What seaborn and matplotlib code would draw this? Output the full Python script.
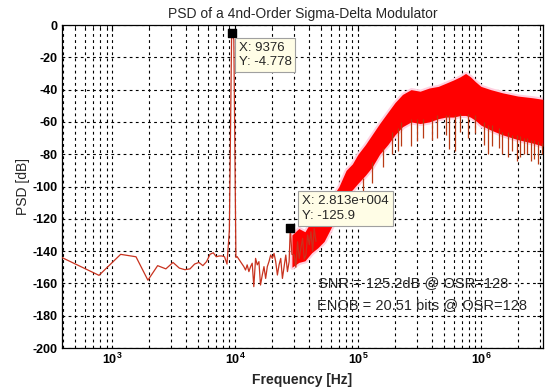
import numpy as np
import pandas as pd
import matplotlib
matplotlib.use("Agg")
import matplotlib.pyplot as plt
import seaborn as sns

# In-band part of the spectrum (bins of ~390.6 Hz)
low_freq = [390.6, 781.3, 1171.9, 1562.5, 1953.1, 2343.8, 2734.4, 3125.0, 3515.6,
            3906.3, 4296.9, 4687.5, 5078.1, 5468.8, 5859.4, 6250.0, 6640.6, 7031.3,
            7421.9, 7812.5, 8203.1, 8593.8, 8984.4, 9375.0, 9765.6, 10156.0,
            10385, 11060, 11780, 12160, 12540, 12950, 13360, 13780, 14200, 14680,
            15150, 15630, 16100, 16640, 17180, 17730, 18290, 18870, 19480, 20100,
            20740, 21400, 22090, 22790, 23520, 24270, 25050, 25850, 26670, 27520,
            28125, 29000, 30270, 31200, 32230, 33260, 34300, 35420, 36500, 37700,
            38900, 40150, 41400, 42750, 44000, 45500]
low_psd = [-144, -155, -142, -143.5, -158, -149, -151, -147, -150.5,
           -151.5, -151, -148, -147, -149, -146.5, -142, -141, -143.5,
           -143, -143, -143.5, -148, -127, -4.778, -9, -144,
           -143.4, -146.5, -149.6, -151.7, -148.5, -152.7, -149.6, -147.5, -162, -144.5,
           -148.5, -146.5, -161, -154.8, -149.6, -156.9, -149.6, -146.5, -142.4, -144.5,
           -141.4, -146.5, -154.8, -148.5, -144.5, -156.9, -149.6, -142.4, -152.7, -146.5,
           -125.9, -142, -142.4, -150, -134.2, -144.5, -138, -132.1, -145, -142.4,
           -130, -136, -128, -140, -126, -134]

# Dense out-of-band noise: upper / lower envelope of the red band
band_freq = [29000, 33000, 37000, 42000, 47000, 53000, 60000, 70000, 80000, 90000,
             100000, 115000, 130000, 150000, 175000, 200000, 230000, 270000, 320000,
             380000, 450000, 520000, 600000, 680000, 750000, 820000, 900000, 1000000,
             1200000, 1500000, 2000000, 2600000, 3200000]
band_top = [-130, -126, -128, -121, -120, -114, -108, -100, -90, -86,
            -80, -74, -68, -61, -54, -48, -43, -40, -41,
            -39, -38, -36, -34, -32, -30, -32, -35, -38,
            -40, -42, -44, -45, -46]
band_bottom = [-150, -147, -146, -141, -138, -134, -126, -116, -106, -102,
               -98, -93, -88, -80, -74, -68, -63, -60, -61,
               -60, -58, -57, -57, -56, -56, -57, -59, -62,
               -65, -68, -71, -73, -75]

# Deep downward spikes below the band
spike_freq = [110000, 130000, 160000, 190000, 210000, 225000, 272000, 300000, 335000,
              397000, 440000, 516000, 547000, 613000, 680000, 780000, 893000, 1050000,
              1150000, 1230000, 1400000, 1490000, 1650000, 1790000, 1950000, 2090000,
              2250000, 2380000, 2550000, 2720000, 2900000, 3160000]
spike_top = [-95, -85, -76, -66, -64, -60, -58, -58, -58,
             -58, -56, -56, -56, -56, -55, -55, -56, -60,
             -62, -62, -64, -66, -66, -68, -68, -69,
             -70, -70, -71, -71, -72, -73]
spike_bottom = [-105, -98, -88, -80, -78, -75, -75, -72, -70,
                -71, -70, -68, -77, -78, -66, -70, -67, -74,
                -80, -75, -76, -80, -82, -78, -84, -82,
                -80, -80, -84, -83, -86, -80]

# Data cursors
tip_x = [9376, 28130]
tip_y = [-4.778, -125.9]
tip_text = ["X: 9376\nY: -4.778", "X: 2.813e+004\nY: -125.9"]

sns.set_theme(style="white")
plt.rcParams['font.family'] = ['Liberation Sans', 'DejaVu Sans']
plt.rcParams['mathtext.fontset'] = 'custom'
plt.rcParams['mathtext.rm'] = 'Liberation Sans'
plt.rcParams['mathtext.bf'] = 'Liberation Sans:bold'

fig = plt.figure(figsize=(5.5, 3.92), dpi=100)
ax = fig.add_axes([0.1127, 0.1122, 0.8746, 0.8240])

red = '#ff0000'
# soft pink halo around the noise band, then the band itself
ax.fill_between(band_freq, band_bottom, band_top, color=red, ec='#ffd0e0', lw=3, zorder=2)
ax.fill_between(band_freq, band_bottom, band_top, color=red, lw=0, zorder=3)
ax.vlines(spike_freq, spike_bottom, spike_top, color='#b83a14', lw=0.9, zorder=3)

low = pd.DataFrame({'f': low_freq, 'psd': low_psd})
sns.lineplot(data=low, x='f', y='psd', ax=ax, color='#c8321e', lw=0.9,
             sort=False, estimator=None, zorder=4)

ax.set_xscale('log')
ax.set_xlim(390.6, 3.2e6)
ax.set_ylim(-200, 0)
ax.set_yticks(range(-200, 1, 20))
ax.set_yticklabels([str(v) for v in range(-200, 1, 20)], fontweight='bold', fontsize=9)
ax.set_xticks([1e3, 1e4, 1e5, 1e6])
ax.set_xticklabels([r'$\mathbf{10^{%d}}$' % p for p in (3, 4, 5, 6)], fontsize=9)

ax.grid(True, which='both', axis='x', color='black', ls=(0, (2.5, 3)), lw=0.8)
ax.grid(True, which='major', axis='y', color='black', ls=(0, (2.5, 3)), lw=0.8)
ax.tick_params(which='both', direction='in', top=True, right=True, colors='black')
ax.tick_params(which='major', length=4, width=0.8, pad=3)
ax.tick_params(which='minor', length=2, width=0.6)
for s in ax.spines.values():
    s.set_color('black')
    s.set_linewidth(0.9)

ax.set_title('PSD of a 4nd-Order Sigma-Delta Modulator', fontsize=10, pad=5)
ax.set_xlabel('Frequency [Hz]', fontsize=10, fontweight='bold', labelpad=4)
ax.set_ylabel('PSD [dB]', fontsize=10, labelpad=2)

ax.scatter(tip_x, tip_y, marker='s', s=36, color='black', zorder=6)
offsets = [(7, -9), (12, 33)]
for x, y, t, off in zip(tip_x, tip_y, tip_text, offsets):
    ax.annotate(t, xy=(x, y), xytext=off, textcoords='offset pixels',
                ha='left', va='top', fontsize=9.5, zorder=7, linespacing=1.25,
                bbox=dict(boxstyle='square,pad=0.3', fc='#fffde6', ec='#a0a0a0', lw=0.8))

ax.text(0.532, 0.201, 'SNR = 125.2dB @ OSR=128', transform=ax.transAxes,
        fontsize=10.5, va='center', ha='left', zorder=7)
ax.text(0.530, 0.133, 'ENOB = 20.51 bits @ OSR=128', transform=ax.transAxes,
        fontsize=10.5, va='center', ha='left', zorder=7)

fig.savefig('out.png', dpi=100)
